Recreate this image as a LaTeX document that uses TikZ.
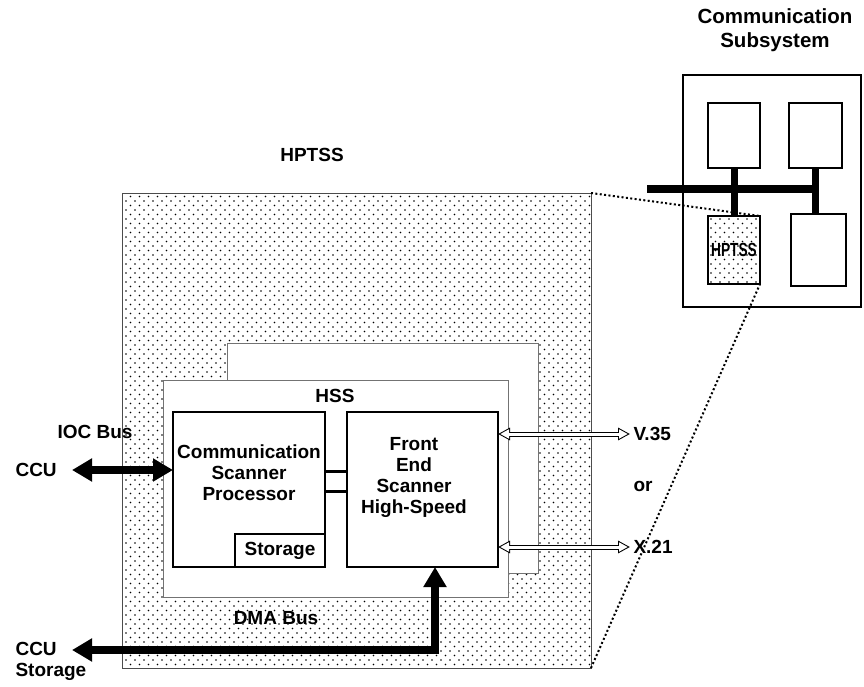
\documentclass[tikz,border=0pt]{standalone}
\usepackage{fontspec}
\setmainfont{Liberation Sans}
\usetikzlibrary{arrows.meta,patterns}

% staggered dot screen of the HPTSS area
\pgfdeclarepatternformonly{hptssdots}{\pgfqpoint{-1pt}{-1pt}}{\pgfqpoint{8pt}{8pt}}{\pgfqpoint{9pt}{9pt}}{%
  \pgfpathcircle{\pgfqpoint{0pt}{0pt}}{.9pt}%
  \pgfpathcircle{\pgfqpoint{4.5pt}{4.5pt}}{.9pt}%
  \pgfusepath{fill}}

\tikzset{
  hptssbox/.style={draw=black!70, line width=0.8pt, pattern=hptssdots, outer sep=0pt, inner sep=0pt},
  hssbox/.style={draw=black!55, line width=0.8pt, fill=white, outer sep=0pt},
  unitbox/.style={draw, line width=2.5pt, fill=white, outer sep=0pt, inner sep=0pt},
  cardbox/.style={draw, line width=2pt, fill=white, outer sep=0pt, inner sep=0pt},
  link/.style={line width=3pt},
  bigbus/.style={line width=8pt, line join=miter,
    {Triangle[length=20pt,width=22pt]}-{Triangle[length=20pt,width=22pt]}},
  wireout/.style={line width=5pt,
    {Triangle[length=12pt,width=12pt]}-{Triangle[length=12pt,width=12pt]}},
  wirein/.style={white, line width=3pt, shorten <=2.2pt, shorten >=2.2pt,
    {Triangle[length=8.8pt,width=8.8pt]}-{Triangle[length=8.8pt,width=8.8pt]}},
  sysbus/.style={line width=8pt},
  zoomline/.style={line width=2pt, dash pattern=on 2pt off 2.4pt}
}

\begin{document}
\begin{tikzpicture}[x=1pt, y=-1pt, font=\fontsize{19}{21}\selectfont\bfseries]
  \useasboundingbox (0,0) rectangle (864,687);

  % HPTSS area
  \node[hptssbox, minimum width=469pt, minimum height=475pt, anchor=north west] (hptss) at (122,193) {};
  \node (hptsslabel) at (312,155) {HPTSS};

  % HSS, two cards
  \node[hssbox, minimum width=311pt, minimum height=230pt, anchor=north west] (hssback) at (227,343) {};
  \node[hssbox, minimum width=345pt, minimum height=217pt, anchor=north west] (hss) at (163,380) {};
  \node (hsslabel) at (335,396) {HSS};

  % scanner processor
  \node[unitbox, minimum width=152pt, minimum height=155pt, anchor=north west] (csp) at (173,412) {};
  \node[align=center] (csptext) at (249,473) {Communication\\Scanner\\Processor};
  \node[unitbox, line width=1.5pt, minimum width=90pt, minimum height=33pt, anchor=south east] (stor) at (csp.south east) {Storage};

  % front end scanner
  \node[unitbox, minimum width=151pt, minimum height=155pt, anchor=north west] (fesh) at (347,412) {};
  \node[align=center] (feshtext) at (414,477) {Front\\End\\Scanner\\High-Speed};
  \draw[link] ([yshift=18.5pt]csp.east) -- ([yshift=18.5pt]fesh.west);
  \draw[link] ([yshift=-1.5pt]csp.east) -- ([yshift=-1.5pt]fesh.west);

  % IOC bus
  \node (ioclabel) at (95,432) {IOC Bus};
  \node[anchor=west] (ccu) at (12,470) {CCU};
  \coordinate (iocend) at (72,470);
  \draw[bigbus] (iocend) -- (csp.west |- iocend);

  % DMA bus
  \node (dmalabel) at (276,618) {DMA Bus};
  \node[anchor=west, align=left] (ccustor) at (12,661) {CCU\\Storage};
  \coordinate (dmaend) at (72,650);
  \coordinate (dmabend) at (435,650);
  \draw[bigbus] (dmaend) -- (dmabend) -- (dmabend |- fesh.south);

  % lines out
  \node[anchor=west] (v35) at (630,434) {V.35};
  \node[anchor=west] (or) at (630,486) {or};
  \node[anchor=west] (x21) at (630,547) {X.21};
  \draw[wireout] (v35.west -| fesh.east) -- (v35.west);
  \draw[wirein]  (v35.west -| fesh.east) -- (v35.west);
  \draw[wireout] (x21.west -| fesh.east) -- (x21.west);
  \draw[wirein]  (x21.west -| fesh.east) -- (x21.west);

  % communication subsystem
  \node[align=center, font=\fontsize{20.5}{24}\selectfont\bfseries] (cstitle) at (775,30) {Communication\\Subsystem};
  \node[cardbox, minimum width=178pt, minimum height=232pt, anchor=north west] (cs) at (683,75) {};
  \node[cardbox, minimum width=52pt, minimum height=65pt, anchor=north west] (cs1) at (708,103) {};
  \node[cardbox, minimum width=53pt, minimum height=65pt, anchor=north west] (cs2) at (789,103) {};
  \node[cardbox, minimum width=55pt, minimum height=72pt, anchor=north west] (cs4) at (791,214) {};
  \coordinate (busend) at (647,189);
  \draw[sysbus] (busend) -- (busend -| cs2.south);
  \draw[sysbus, line width=7pt] (cs1.south) -- (cs1.south |- 0,216);
  \draw[sysbus, line width=7pt] (cs2.south) -- (cs2.south |- cs4.north);
  \node[hptssbox, draw=black, line width=2pt, minimum width=52pt, minimum height=68pt, anchor=north west] (cshp) at (708,216)
    {\fontsize{19}{19}\bfseries\scalebox{0.72}[1]{HPTSS}};

  % zoom lines
  \draw[zoomline] (hptss.north east) -- (cshp.north east);
  \draw[zoomline] (hptss.south east) -- (cshp.south east);
\end{tikzpicture}
\end{document}
